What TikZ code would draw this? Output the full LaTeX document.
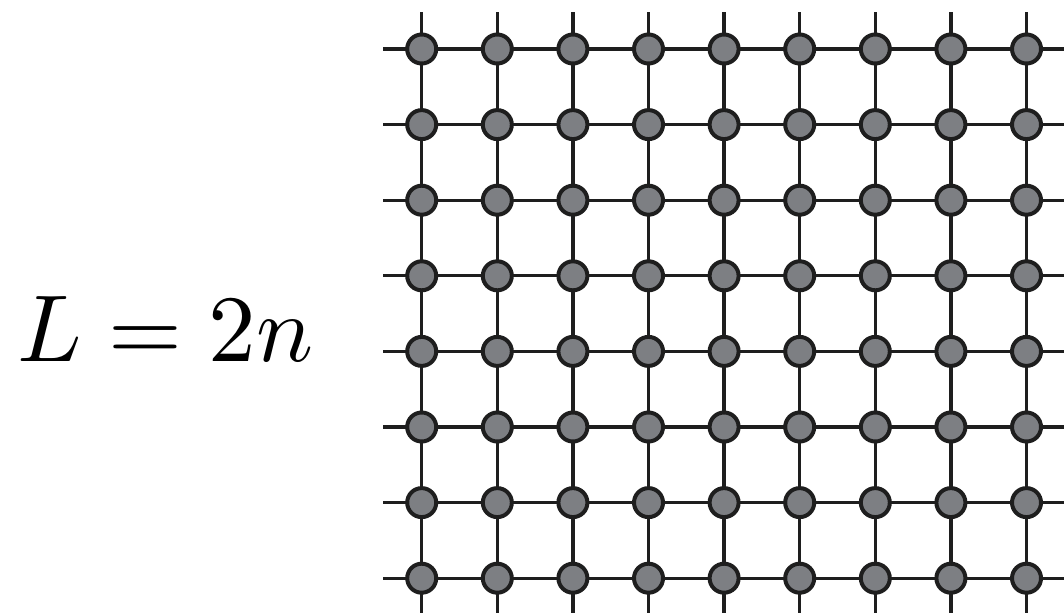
\documentclass[tikz,border=0pt]{standalone}
\usetikzlibrary{backgrounds}
\DeclareFontShape{OML}{cmm}{m}{it}{<-> cmmi10}{}
\DeclareFontShape{OT1}{cmr}{m}{n}{<-> cmr10}{}
\DeclareFontShape{OMS}{cmsy}{m}{n}{<-> cmsy10}{}
\definecolor{sitefill}{RGB}{125,127,131}
\definecolor{linecol}{RGB}{30,30,30}
\tikzset{
  site/.style={circle,draw=linecol,fill=sitefill,line width=4pt,minimum size=29pt,inner sep=0pt},
  bond/.style={draw=linecol,line width=3.3pt}
}
\begin{document}
\begin{tikzpicture}[x=1pt,y=-1pt]
\useasboundingbox (0,0) rectangle (1064,613);
\node[anchor=base west,inner sep=0pt,font=\fontsize{95}{114}\selectfont] (label) at (17,361) {$L=2n$};
\foreach \i in {0,...,8} {
  \foreach \j in {0,...,7} {
    \node[site] (s-\i-\j) at ({421.7+75.6*\i},{49+75.6*\j}) {};
  }
  \coordinate (top-\i) at ({421.7+75.6*\i},12);
  \coordinate (bot-\i) at ({421.7+75.6*\i},613);
}
\foreach \j in {0,...,7} {
  \coordinate (left-\j) at (383,{49+75.6*\j});
  \coordinate (right-\j) at (1064,{49+75.6*\j});
}
\begin{pgfonlayer}{background}
\foreach \j in {0,...,7} {
  \draw[bond] (left-\j) -- (s-0-\j.center);
  \foreach \i [evaluate=\i as \k using int(\i+1)] in {0,...,7} {
    \draw[bond] (s-\i-\j.center) -- (s-\k-\j.center);
  }
  \draw[bond] (s-8-\j.center) -- (right-\j);
}
\foreach \i in {0,...,8} {
  \draw[bond] (top-\i) -- (s-\i-0.center);
  \foreach \j [evaluate=\j as \k using int(\j+1)] in {0,...,6} {
    \draw[bond] (s-\i-\j.center) -- (s-\i-\k.center);
  }
  \draw[bond] (s-\i-7.center) -- (bot-\i);
}
\end{pgfonlayer}
\end{tikzpicture}
\end{document}
